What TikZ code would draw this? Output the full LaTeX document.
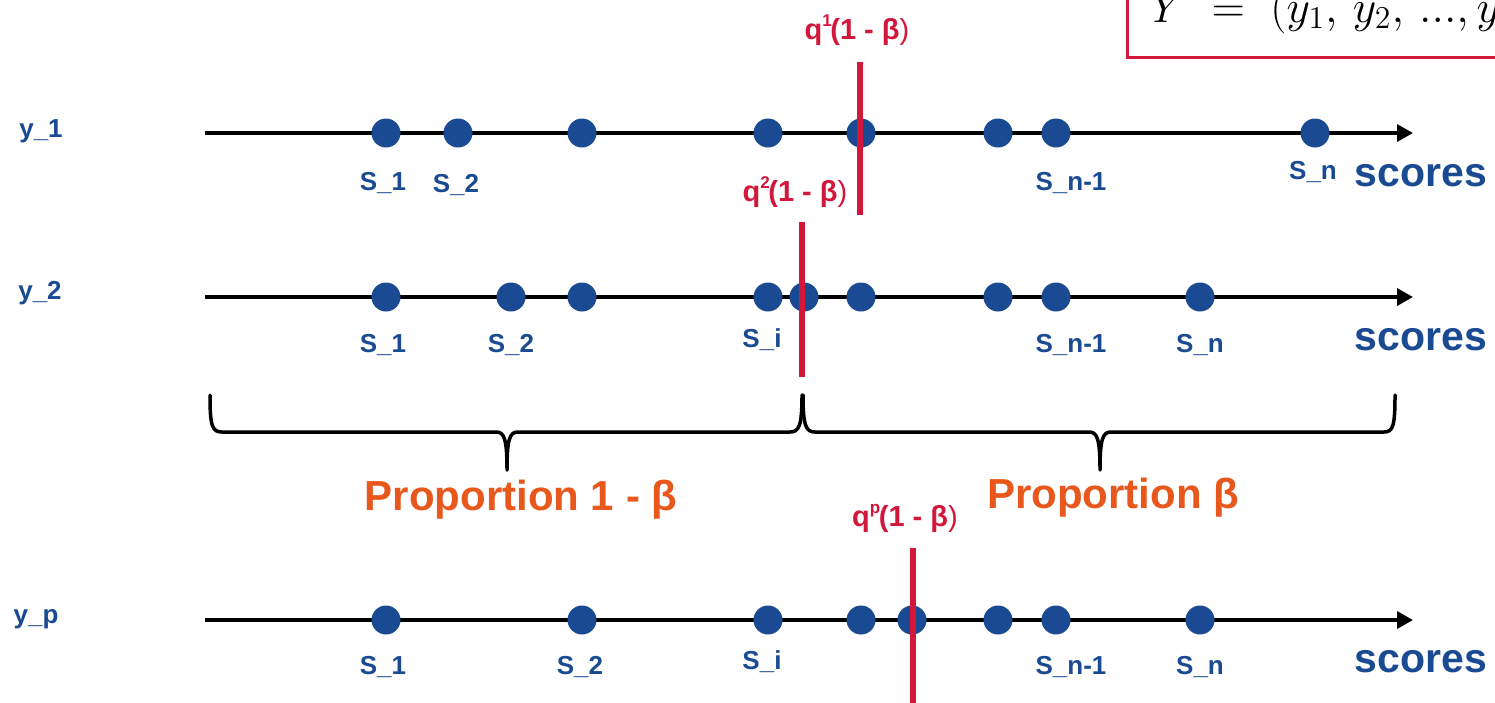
\documentclass[tikz,border=0pt]{standalone}
\usepackage[no-math]{fontspec}
\setmainfont{Liberation Sans}
\usetikzlibrary{arrows.meta}
\definecolor{dotblue}{HTML}{1A4A91}
\definecolor{cutred}{HTML}{D3173B}
\definecolor{proporange}{HTML}{E8581C}
\tikzset{
  axisline/.style={line width=3.5pt, -{Triangle[length=16pt,width=17pt]}},
  dot/.style={circle, fill=dotblue, inner sep=0pt, minimum size=29pt},
  cutline/.style={draw=cutred, line width=5.5pt},
  slab/.style={text=dotblue, inner sep=0pt, font=\fontsize{26}{29}\selectfont\bfseries},
  ylab/.style={text=dotblue, inner sep=0pt, font=\fontsize{26}{29}\selectfont\bfseries},
  scorelab/.style={text=dotblue, inner sep=0pt, font=\fontsize{41}{46}\selectfont\bfseries},
  qlab/.style={text=cutred, inner sep=0pt, font=\fontsize{29}{33}\selectfont\bfseries},
  proplab/.style={text=proporange, inner sep=0pt, font=\fontsize{42}{48}\selectfont\bfseries},
  bracepath/.style={line width=3.5pt, line join=round, line cap=round},
}
\newcommand{\qlabel}[1]{q\raisebox{0.45em}{\fontsize{17}{18}\selectfont #1}\kern-0.05em(1 - β{\mdseries)}}
\begin{document}
\begin{tikzpicture}[x=1pt,y=-1pt]
\useasboundingbox (0,0) rectangle (1495,702);
\clip (0,0) rectangle (1495,702);
\fill[white] (0,0) rectangle (1495,702);

% top-right formula box
\draw[cutred, line width=3pt] (1127,-20) rectangle (1560,57);
\node[anchor=base west, inner sep=0pt, scale=2.21, transform shape, font=\huge] (formula) at (1150,22) {$Y\;=\;(y_1,\, y_2,\, ..., y_p)$};

% axes
\foreach \r/\yy in {1/133, 2/297, p/620} {
  \coordinate (a\r s) at (205,\yy);
  \coordinate (a\r e) at (1413,\yy);
  \draw[axisline] (a\r s) -- (a\r e);
}

% dots
\foreach \i/\xx in {1/386, 2/458, 3/582, 4/768, 5/861, 6/998, 7/1056, 8/1315}
  \node[dot] (d1-\i) at (\xx,133) {};
\foreach \i/\xx in {1/386, 2/511, 3/582, 4/768, 5/804, 6/861, 7/998, 8/1056, 9/1200}
  \node[dot] (d2-\i) at (\xx,297) {};
\foreach \i/\xx in {1/386, 2/582, 3/768, 4/861, 5/912, 6/998, 7/1056, 8/1200}
  \node[dot] (dp-\i) at (\xx,620) {};

% cut lines
\coordinate (c1t) at (860,62);  \coordinate (c1b) at (860,215);
\coordinate (c2t) at (802,222); \coordinate (c2b) at (802,377);
\coordinate (cpt) at (913,548); \coordinate (cpb) at (913,710);
\draw[cutline] (c1t) -- (c1b);
\draw[cutline] (c2t) -- (c2b);
\draw[cutline] (cpt) -- (cpb);

% q labels
\node[qlab] (q1) at (857,30) {\qlabel{1}};
\node[qlab] (q2) at (795,192) {\qlabel{2}};
\node[qlab] (qp) at (905,518) {\qlabel{p}};

% y labels
\node[ylab] (y1) at (41,131) {y\_1};
\node[ylab] (y2) at (40,293) {y\_2};
\node[ylab] (yp) at (36,619) {y\_p};

% row 1 labels
\node[slab] (l1-1) at (383,183) {S\_1};
\node[slab] (l1-2) at (456,185) {S\_2};
\node[slab] (l1-7) at (1071,183) {S\_n-1};
\node[slab] (l1-8) at (1313,172) {S\_n};
\node[scorelab] (sc1) at (1421,176) {scores};

% row 2 labels
\node[slab] (l2-1) at (383,345) {S\_1};
\node[slab] (l2-2) at (511,345) {S\_2};
\node[slab] (l2-4) at (762,340) {S\_i};
\node[slab] (l2-8) at (1071,345) {S\_n-1};
\node[slab] (l2-9) at (1200,345) {S\_n};
\node[scorelab] (sc2) at (1421,340) {scores};

% row p labels
\node[slab] (lp-1) at (383,667) {S\_1};
\node[slab] (lp-2) at (580,667) {S\_2};
\node[slab] (lp-3) at (762,662) {S\_i};
\node[slab] (lp-7) at (1071,667) {S\_n-1};
\node[slab] (lp-8) at (1200,667) {S\_n};
\node[scorelab] (scp) at (1421,662) {scores};

% braces
\draw[bracepath] (210,395) .. controls (210,426) and (212,432) .. (222,432)
  -- (496,432) .. controls (504,432) and (507,438) .. (507,470)
  .. controls (507,438) and (510,432) .. (518,432)
  -- (790,432) .. controls (799,432) and (802,426) .. (802,395);
\draw[bracepath] (803,395) .. controls (803,426) and (806,432) .. (815,432)
  -- (1089,432) .. controls (1097,432) and (1100,438) .. (1100,470)
  .. controls (1100,438) and (1103,432) .. (1111,432)
  -- (1384,432) .. controls (1393,432) and (1395,426) .. (1395,395);

% proportion labels
\node[proplab] (p1) at (521,500) {Proportion 1 - β};
\node[proplab] (p2) at (1113,498) {Proportion β};
\end{tikzpicture}
\end{document}
